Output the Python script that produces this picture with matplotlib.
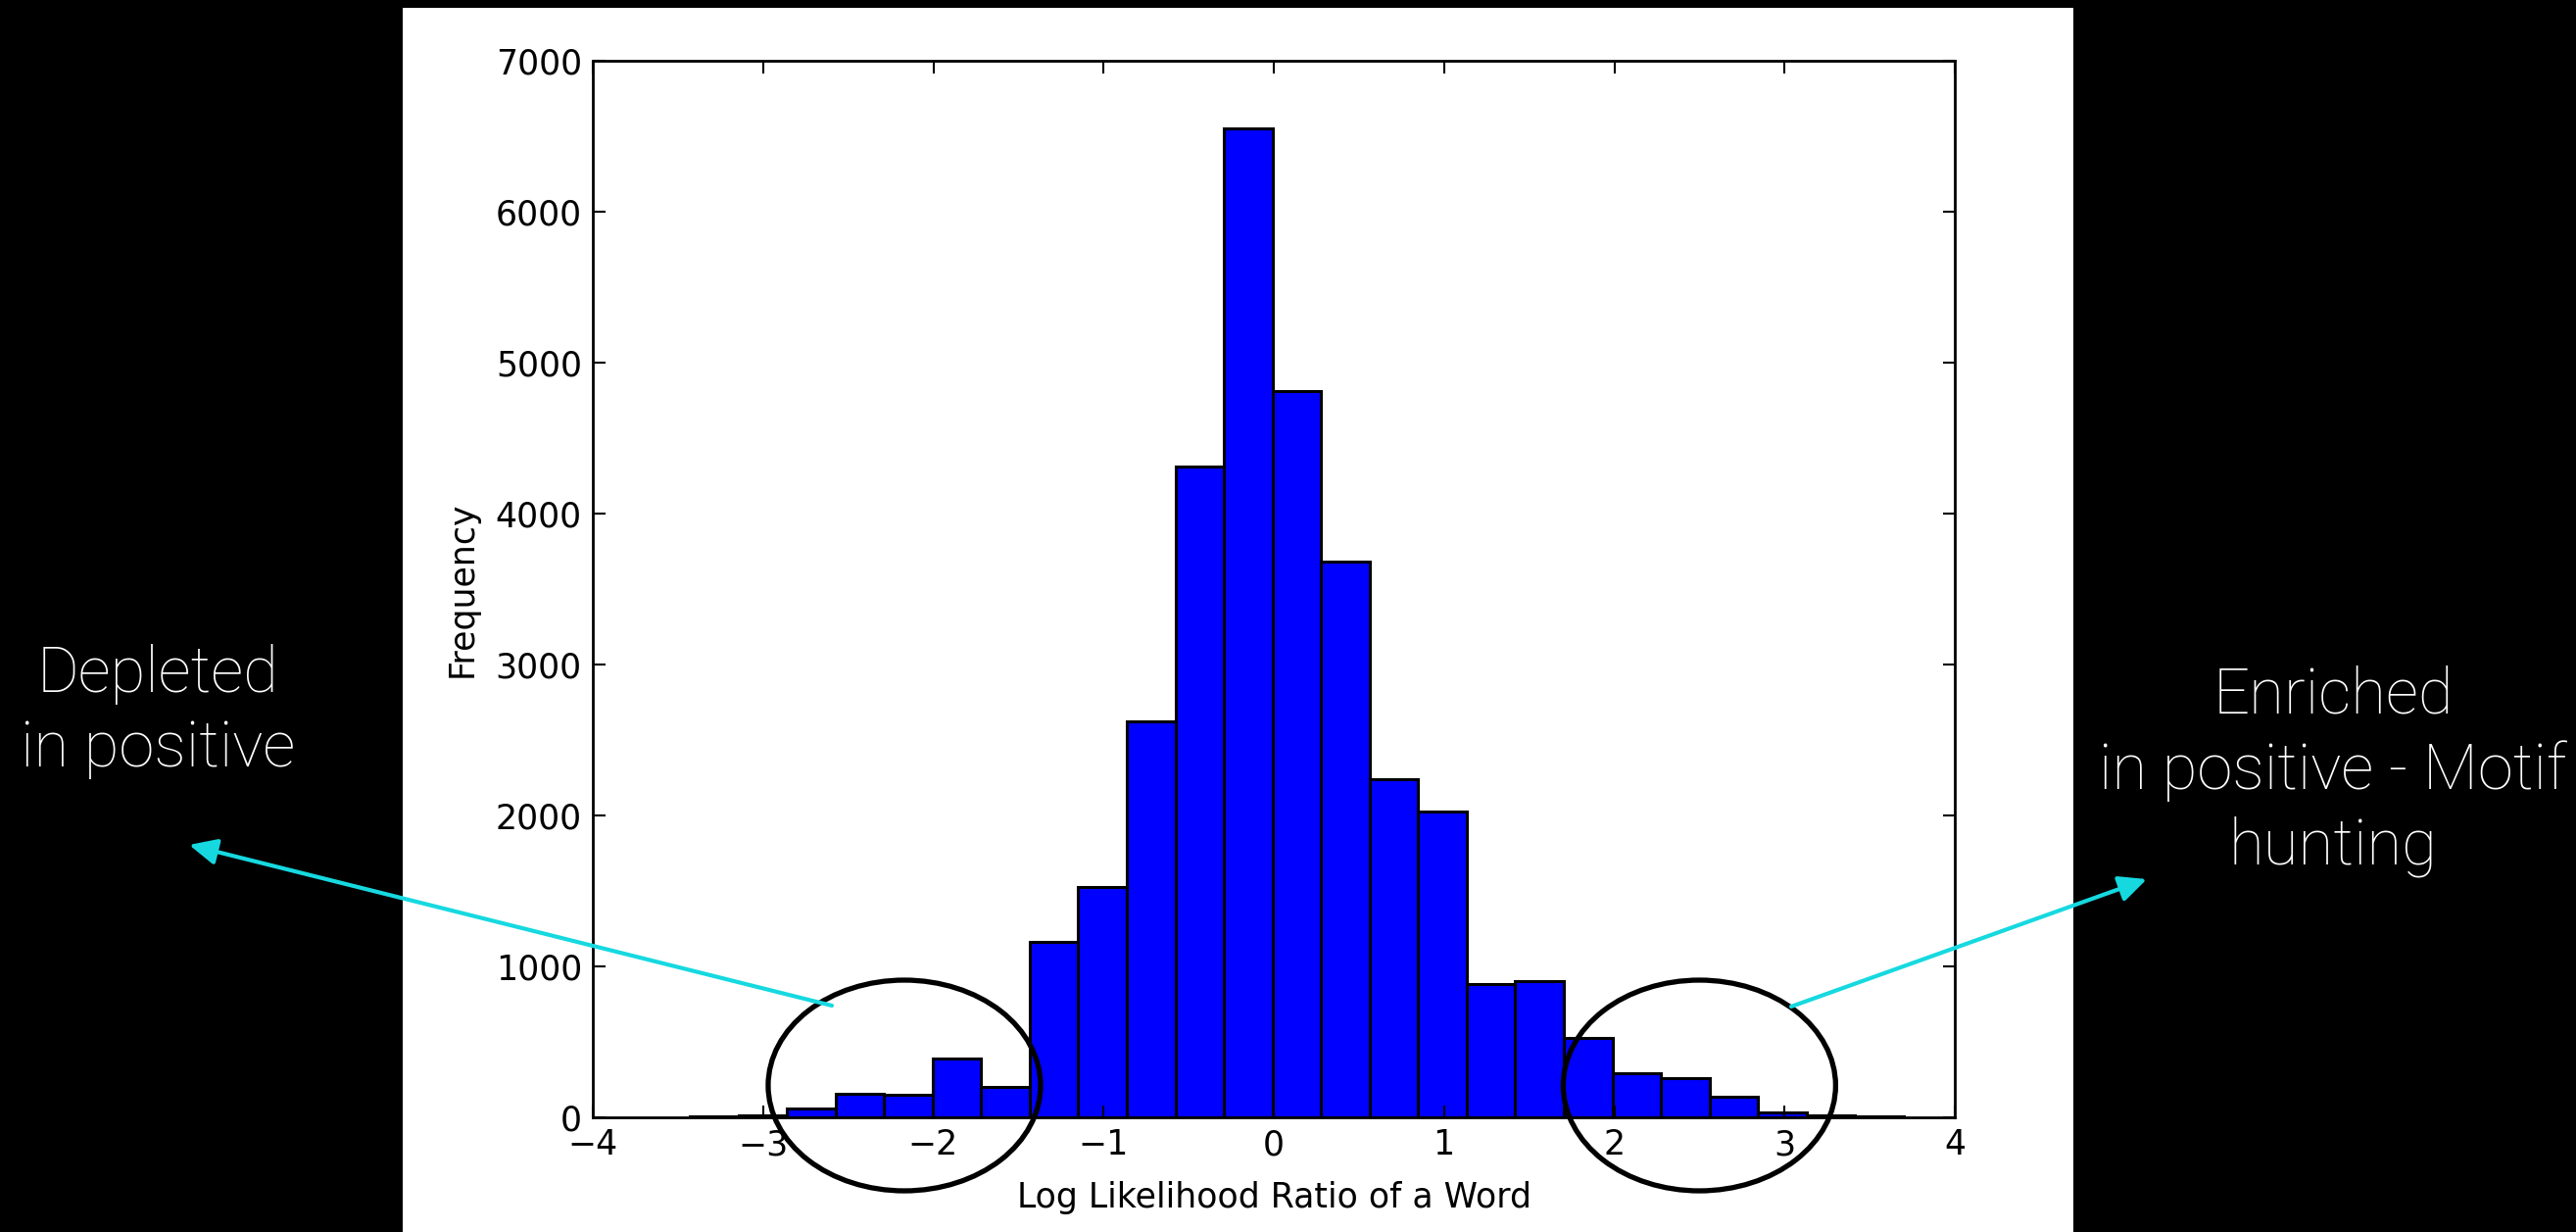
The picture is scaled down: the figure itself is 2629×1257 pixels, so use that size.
import numpy as np
import matplotlib
matplotlib.use("Agg")
import matplotlib.pyplot as plt
from matplotlib.patches import Ellipse, Rectangle, FancyArrowPatch

# ---- data ----
bin_start = -3.43
bin_end = 3.70
counts = [6, 13, 56, 158, 150, 388, 200, 1165, 1524, 2622, 4310, 6550, 4812,
          3680, 2243, 2023, 884, 905, 528, 292, 258, 136, 30, 15, 6]
x_ticks = [-4, -3, -2, -1, 0, 1, 2, 3, 4]
y_ticks = [0, 1000, 2000, 3000, 4000, 5000, 6000, 7000]
x_label = "Log Likelihood Ratio of a Word"
y_label = "Frequency"
left_note = "Depleted\nin positive"
right_note = "Enriched\nin positive - Motif\nhunting"

W, H = 2629, 1257
fig = plt.figure(figsize=(W / 100, H / 100), dpi=100, facecolor="black")

# white slide panel
fig.add_artist(Rectangle((411 / W, 0), (2116 - 411) / W, 1 - 8 / H,
                         transform=fig.transFigure, facecolor="white",
                         edgecolor="none", zorder=0))

ax = fig.add_axes([605 / W, 1 - 1140 / H, (1995 - 605) / W, (1140 - 62) / H])
ax.set_facecolor("white")

edges = np.linspace(bin_start, bin_end, len(counts) + 1)
ax.bar(edges[:-1], counts, width=np.diff(edges), align="edge",
       color="#0000FF", edgecolor="black", linewidth=2.2)

ax.set_xlim(-4, 4)
ax.set_ylim(0, 7000)
ax.set_xticks(x_ticks)
ax.set_yticks(y_ticks)
ax.set_xticklabels([str(t).replace("-", "\u2212") for t in x_ticks])
ax.tick_params(direction="in", length=9, width=1.5, labelsize=25, top=True,
               right=True, pad=8, colors="black")
for s in ax.spines.values():
    s.set_linewidth(2)
ax.set_xlabel(x_label, fontsize=25, labelpad=14)
ax.set_ylabel(y_label, fontsize=25, labelpad=12)

# ellipses around the tails
for cx in (-2.17, 2.50):
    ax.add_patch(Ellipse((cx, 211), 1.60, 1396, fill=False, edgecolor="black",
                         linewidth=3.8, clip_on=False, zorder=5))

cyan = "#16D9E0"
def fpt(px, py):
    return (px / W, 1 - py / H)

for start, end in (((849, 1026), (193, 862)), ((1828, 1027), (2191, 897))):
    arr = FancyArrowPatch(fpt(*start), fpt(*end), transform=fig.transFigure,
                          arrowstyle="-|>,head_length=17,head_width=8",
                          mutation_scale=1, color=cyan, linewidth=3,
                          shrinkA=0, shrinkB=0, zorder=6)
    fig.add_artist(arr)

fig.text(161 / W, 1 - 726 / H, left_note, color="white", fontsize=47,
         family=["Roboto", "DejaVu Sans"], fontweight="light",
         ha="center", va="center", linespacing=1.3)
fig.text(2381 / W, 1 - 787 / H, right_note, color="white", fontsize=47,
         family=["Roboto", "DejaVu Sans"], fontweight="light",
         ha="center", va="center", linespacing=1.3)

fig.savefig("out.png", dpi=100, facecolor="black")
